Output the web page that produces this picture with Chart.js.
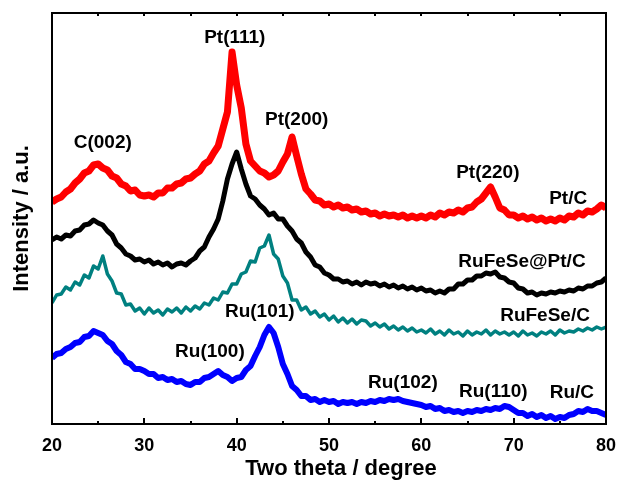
<!DOCTYPE html>
<html>
<head>
<meta charset="utf-8">
<script src="https://cdn.jsdelivr.net/npm/chart.js@4/dist/chart.umd.min.js"></script>
<style>
html,body{margin:0;padding:0;background:#fff;}
#c{display:block;}
</style>
</head>
<body>
<canvas id="c" width="618" height="485"></canvas>
<script>
// 2-theta positions (degrees), 0.5 degree step from 20 to 80
const twoTheta = [];
for (let i = 0; i <= 120; i++) twoTheta.push(20 + i * 0.5);

const xTicks = [20, 30, 40, 50, 60, 70, 80];
const xTitle = 'Two theta / degree';
const yTitle = 'Intensity / a.u.';

// Intensities (a.u., offset stacked)
const ptC = [
 222,225,227,232,235,241,245,251,253,259,260,256,254,248,246,240,238,233,234,229,
 228,229,227,231,231,236,236,240,241,245,246,250,253,260,263,271,278,295,312,372,
 339,316,280,263,258,253,251,247,249,253,262,270,287,268,250,235,230,224,223,219,
 220,217,219,216,217,214,215,212,213,210,211,208,210,208,209,207,209,206,208,206,
 208,206,209,207,211,209,212,211,214,212,216,217,222,225,231,237,227,216,214,209,
 209,206,208,205,207,204,206,203,205,203,206,204,208,207,211,209,213,212,215,219,
 216];

const ruFeSePtC = [
 184,187,185,189,188,193,194,199,200,204,201,199,193,189,180,176,170,168,164,165,
 162,164,160,162,159,161,157,160,161,159,163,166,173,177,187,195,205,223,245,260,
 272,255,240,228,225,219,215,209,211,205,205,198,193,185,181,172,167,159,157,151,
 149,145,145,142,143,140,142,139,142,140,141,138,140,137,139,136,138,135,137,134,
 136,133,134,131,133,131,135,135,140,140,144,144,148,148,151,150,152,147,146,142,
 141,136,135,131,132,129,131,130,132,131,133,132,134,133,136,135,138,138,141,142,
 146];

const ruFeSeC = [
 121,129,130,137,134,142,139,149,146,158,155,168,150,143,131,130,119,120,113,116,
 110,116,111,114,109,115,112,116,111,117,113,118,115,121,119,126,124,132,131,140,
 140,150,152,163,162,176,178,189,170,165,148,141,124,124,114,117,110,113,107,110,
 104,108,102,106,101,105,100,104,103,98,101,97,100,95,98,94,97,93,96,92,
 94,91,95,90,93,89,94,90,92,88,93,89,92,90,94,89,93,90,92,89,
 92,88,93,89,91,88,92,90,93,89,94,91,93,92,95,93,96,94,97,95,
 97];

const ruC = [
 66,70,71,75,77,81,82,87,88,93,91,89,83,80,73,69,62,60,55,55,
 53,50,50,46,47,44,45,42,43,40,39,42,42,46,47,50,53,49,47,43,
 46,47,54,58,68,77,89,97,91,77,60,50,38,34,28,28,24,25,22,24,
 22,23,20,22,21,22,20,22,21,23,22,24,23,25,24,25,23,22,21,20,
 19,17,18,15,16,13,14,12,13,11,13,12,14,13,15,14,16,15,18,17,
 14,11,11,8,10,7,9,6,8,5,7,6,9,10,13,12,15,13,13,11,
 9];

// Peak / curve labels (text, two-theta, intensity)
const labelTexts = ["C(002)","Pt(111)","Pt(200)","Pt(220)","Pt/C","RuFeSe@Pt/C","RuFeSe/C","Ru(101)","Ru(100)","Ru(102)","Ru(110)","Ru/C"];
const labelX     = [25.5, 39.8, 46.5, 67.2, 75.9, 70.9, 73.4, 42.5, 37.1, 58.0, 67.8, 76.3];
const labelY     = [281, 386, 304, 251, 225, 162, 108, 112, 72, 41, 32, 31];

const FONT = '"Liberation Sans", Arial, Helvetica, sans-serif';

function pts(arr) { return twoTheta.map((x, i) => ({x: x, y: arr[i]})); }

const framePlugin = {
  id: 'frame',
  afterDatasetsDraw(chart) {
    const {ctx, chartArea: a, scales} = chart;
    const xs = scales.x;
    ctx.save();
    ctx.strokeStyle = '#000';
    ctx.lineWidth = 2;
    ctx.strokeRect(a.left, a.top, a.right - a.left, a.bottom - a.top);
    // inward ticks: majors every 10, minors every 5
    for (let v = 20; v <= 80; v += 5) {
      const px = Math.round(xs.getPixelForValue(v));
      const major = (v % 10 === 0);
      const lb = major ? 6 : 3;
      const lt = 3;
      ctx.beginPath();
      ctx.moveTo(px, a.bottom); ctx.lineTo(px, a.bottom - lb);
      ctx.moveTo(px, a.top); ctx.lineTo(px, a.top + lt);
      ctx.stroke();
    }
    ctx.fillStyle = '#000';
    ctx.textAlign = 'center';
    ctx.textBaseline = 'middle';
    // x axis title (slightly right of centre as in the original)
    ctx.font = 'bold 22px ' + FONT;
    ctx.fillText(xTitle, (a.left + a.right) / 2 + 12, a.bottom + 45);
    // labels
    ctx.font = 'bold 19px ' + FONT;
    for (let i = 0; i < labelTexts.length; i++) {
      ctx.fillText(labelTexts[i], xs.getPixelForValue(labelX[i]), scales.y.getPixelForValue(labelY[i]));
    }
    ctx.restore();
  }
};

new Chart(document.getElementById('c'), {
  type: 'line',
  data: {
    datasets: [
      {label: 'Pt/C', data: pts(ptC), borderColor: '#ff0000', borderWidth: 7},
      {label: 'RuFeSe@Pt/C', data: pts(ruFeSePtC), borderColor: '#000000', borderWidth: 5},
      {label: 'RuFeSe/C', data: pts(ruFeSeC), borderColor: '#008080', borderWidth: 3.5},
      {label: 'Ru/C', data: pts(ruC), borderColor: '#0000ff', borderWidth: 6}
    ].map(d => Object.assign(d, {pointRadius: 0, fill: false, tension: 0, borderJoinStyle: 'round'}))
  },
  options: {
    responsive: false,
    animation: false,
    layout: {padding: {left: 0, right: 12, top: 13, bottom: 0}},
    plugins: {legend: {display: false}, tooltip: {enabled: false}},
    scales: {
      x: {
        type: 'linear', min: 20, max: 80,
        afterBuildTicks(s) { s.ticks = xTicks.map(v => ({value: v})); },
        afterFit(s) { s.height = 61; s.paddingLeft = 0; s.paddingRight = 0; },
        grid: {display: false, drawTicks: false},
        border: {display: false},
        ticks: {color: '#000', padding: 11, font: {family: FONT, size: 18, weight: 'bold'}},
        title: {display: false}
      },
      y: {
        min: 0, max: 411,
        afterFit(s) { s.width = 52; s.paddingTop = 0; s.paddingBottom = 0; },
        grid: {display: false, drawTicks: false},
        border: {display: false},
        ticks: {display: false},
        title: {display: true, text: yTitle, color: '#000', padding: 9,
                font: {family: FONT, size: 22, weight: 'bold'}}
      }
    }
  },
  plugins: [framePlugin]
});
</script>
</body>
</html>
